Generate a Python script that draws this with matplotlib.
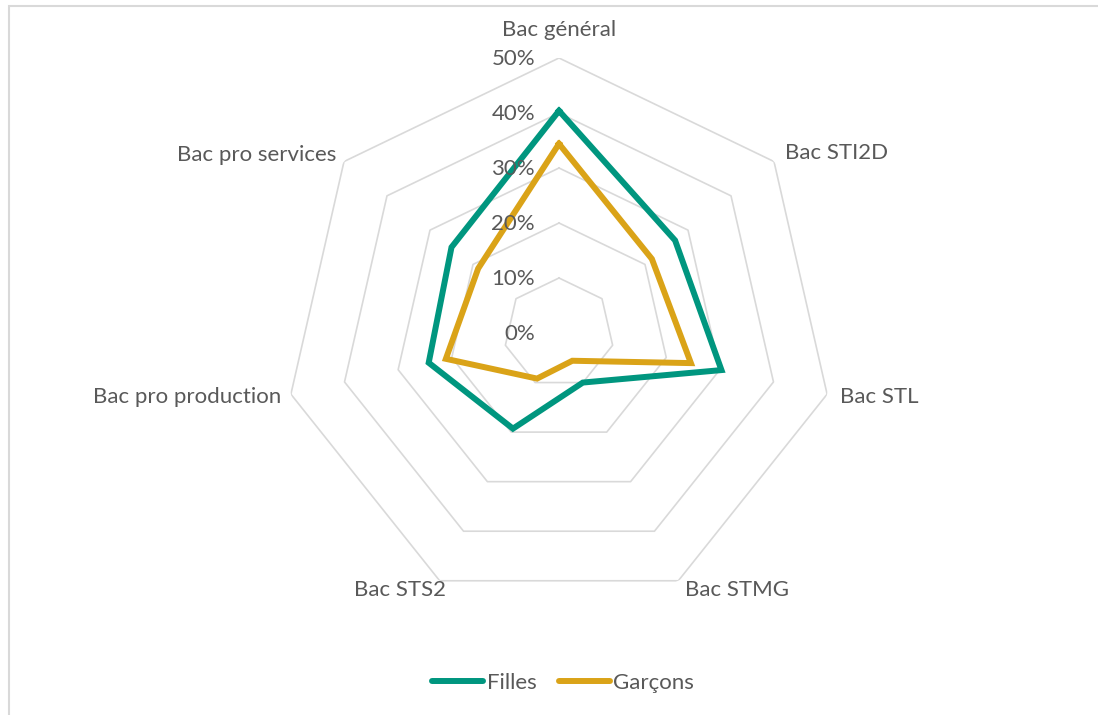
import numpy as np
import matplotlib
matplotlib.use("Agg")
import matplotlib.pyplot as plt
from matplotlib.lines import Line2D
from matplotlib.patches import Rectangle

plt.rcParams['font.family'] = ['Lato', 'DejaVu Sans']

categories = ["Bac général", "Bac STI2D", "Bac STL", "Bac STMG", "Bac STS2",
              "Bac pro production", "Bac pro services"]
filles = [40.4, 27.0, 30.3, 10.0, 19.3, 24.3, 25.0]
garcons = [34.4, 21.6, 24.6, 5.6, 9.2, 21.1, 18.8]
ring_values = [0, 10, 20, 30, 40, 50]
ring_labels = ["0%", "10%", "20%", "30%", "40%", "50%"]

TEAL = "#00967F"
GOLD = "#DAA318"
GRID = "#D9D9D9"
TXT = "#595959"
FS = 16

W, H = 1098, 715
fig = plt.figure(figsize=(W / 100, H / 100), dpi=100)
cx, cy, R = 559, 333, 275
ax = fig.add_axes([(cx - R) / W, (H - cy - R) / H, 2 * R / W, 2 * R / H], projection='polar')
ax.set_theta_zero_location('N')
ax.set_theta_direction(-1)
ax.set_ylim(0, 50)
ax.grid(False)
ax.set_xticks([])
ax.set_yticks([])
ax.spines['polar'].set_visible(False)
ax.patch.set_alpha(0)

n = len(categories)
theta = np.linspace(0, 2 * np.pi, n, endpoint=False)
theta_c = np.append(theta, theta[0])

for v in ring_values[1:]:
    ax.plot(theta_c, [v] * (n + 1), color=GRID, lw=1.2, zorder=1)

ax.plot(theta_c, filles + filles[:1], color=TEAL, lw=4.3, zorder=3, solid_joinstyle='miter')
ax.plot(theta_c, garcons + garcons[:1], color=GOLD, lw=4.3, zorder=3, solid_joinstyle='miter')

for v, lab in zip(ring_values, ring_labels):
    ax.annotate(lab, xy=(0, v), xytext=(-24, -1), textcoords='offset pixels',
                ha='right', va='center', fontsize=FS, color=TXT, zorder=4)

offsets = [((0, 28), 'center'), ((11, 9), 'left'), ((13, -3), 'left'),
           ((7, -9), 'left'), ((6, -9), 'right'), ((-10, -3), 'right'),
           ((-8, 7), 'right')]
for t, lab, (off, ha) in zip(theta, categories, offsets):
    ax.annotate(lab, xy=(t, 50), xytext=off, textcoords='offset pixels',
                ha=ha, va='center', fontsize=FS, color=TXT, annotation_clip=False)

handles = [Line2D([], [], color=TEAL, lw=4.3, solid_capstyle='round'),
           Line2D([], [], color=GOLD, lw=4.3, solid_capstyle='round')]
fig.legend(handles, ["Filles", "Garçons"], loc='center',
           bbox_to_anchor=(563 / W, 1 - 683 / H), ncol=2, frameon=False,
           fontsize=FS, labelcolor=TXT, handlelength=2.3, handletextpad=0.15,
           columnspacing=1.0)

fig.patches.append(Rectangle((8.5 / W, -0.1), 2, 1 - 6.5 / H + 0.1, transform=fig.transFigure,
                             fill=False, edgecolor=GRID, lw=1.5))

fig.savefig("out.png", dpi=100)
